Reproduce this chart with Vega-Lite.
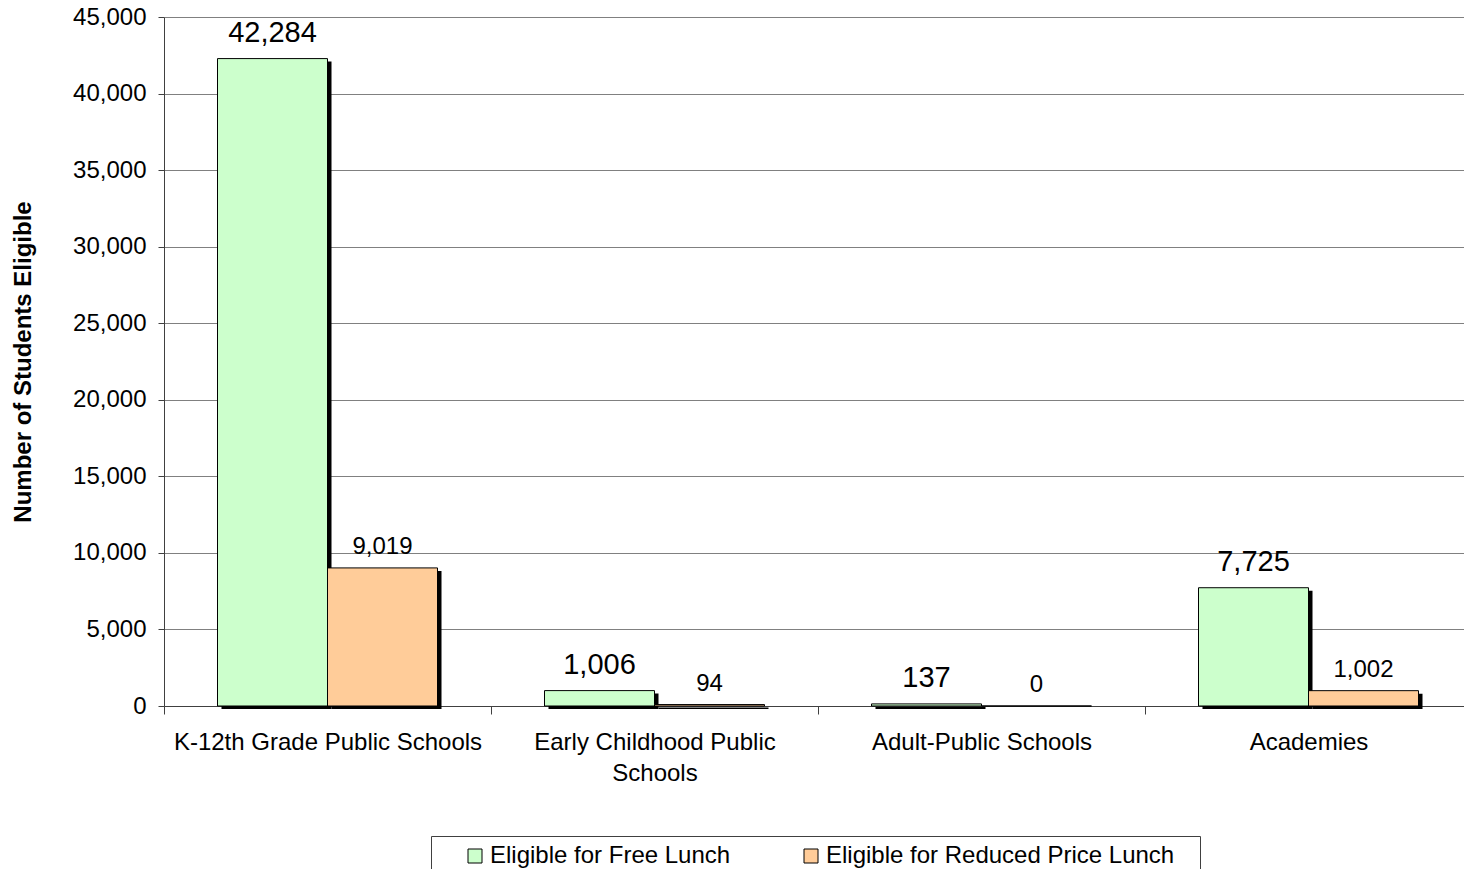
{
  "$schema": "https://vega.github.io/schema/vega-lite/v6.json",
  "autosize": {"type": "none"},
  "width": 1308,
  "height": 689,
  "padding": {"left": 164, "top": 17, "right": 0, "bottom": 163},
  "background": "white",
  "config": {
    "font": "Liberation Sans",
    "view": {"stroke": null},
    "axis": {"labelFont": "Liberation Sans", "titleFont": "Liberation Sans", "labelColor": "black", "titleColor": "black"}
  },
  "data": {
    "values": [
      {"school": "K-12th Grade Public Schools", "series": "Eligible for Free Lunch", "students": 42284},
      {"school": "K-12th Grade Public Schools", "series": "Eligible for Reduced Price Lunch", "students": 9019},
      {"school": "Early Childhood Public Schools", "series": "Eligible for Free Lunch", "students": 1006},
      {"school": "Early Childhood Public Schools", "series": "Eligible for Reduced Price Lunch", "students": 94},
      {"school": "Adult-Public Schools", "series": "Eligible for Free Lunch", "students": 137},
      {"school": "Adult-Public Schools", "series": "Eligible for Reduced Price Lunch", "students": 0},
      {"school": "Academies", "series": "Eligible for Free Lunch", "students": 7725},
      {"school": "Academies", "series": "Eligible for Reduced Price Lunch", "students": 1002}
    ]
  },
  "encoding": {
    "x": {
      "field": "school", "type": "nominal", "sort": null,
      "scale": {"paddingInner": 0, "paddingOuter": 0},
      "axis": {
        "title": null, "labelAngle": 0, "labelFontSize": 24, "labelLineHeight": 31,
        "tickBand": "extent", "tickSize": 8, "tickColor": "#404040", "domainColor": "#404040",
        "labelPadding": 16, "labelLimit": 400,
        "labelExpr": "datum.label == 'Early Childhood Public Schools' ? ['Early Childhood Public', 'Schools'] : datum.label"
      }
    },
    "y": {
      "field": "students", "type": "quantitative",
      "scale": {"domain": [0, 45000], "nice": false},
      "axis": {
        "title": "Number of Students Eligible", "titleFontSize": 24, "titleFontWeight": "bold", "titlePadding": 37,
        "values": [0, 5000, 10000, 15000, 20000, 25000, 30000, 35000, 40000, 45000],
        "format": ",d", "labelFontSize": 24, "labelPadding": 12, "tickSize": 6,
        "tickColor": "#404040", "domainColor": "#404040",
        "grid": true, "gridColor": "#808080", "gridWidth": 1
      }
    }
  },
  "resolve": {"scale": {"xOffset": "independent"}},
  "layer": [
    {
      "mark": {"type": "bar", "fill": "black", "yOffset": 3},
      "encoding": {
        "xOffset": {
          "field": "series", "type": "nominal",
          "scale": {"domain": ["Eligible for Free Lunch", "Eligible for Reduced Price Lunch"], "range": [57.5, 277.5], "paddingInner": 0, "paddingOuter": 0}
        }
      }
    },
    {
      "mark": {"type": "bar", "stroke": "black", "strokeWidth": 1},
      "encoding": {
        "xOffset": {
          "field": "series", "type": "nominal",
          "scale": {"domain": ["Eligible for Free Lunch", "Eligible for Reduced Price Lunch"], "range": [53.5, 273.5], "paddingInner": 0, "paddingOuter": 0}
        },
        "color": {
          "field": "series", "type": "nominal",
          "scale": {"domain": ["Eligible for Free Lunch", "Eligible for Reduced Price Lunch"], "range": ["#CCFFCC", "#FFCC99"]},
          "legend": {
            "title": " ", "titleOrient": "right", "titlePadding": 18, "titleFontSize": 24,
            "orient": "none", "direction": "horizontal",
            "legendX": 267, "legendY": 819,
            "labelFontSize": 24, "labelFont": "Liberation Sans", "labelColor": "black",
            "symbolType": "square", "symbolSize": 196, "symbolStrokeColor": "black", "symbolStrokeWidth": 1,
            "symbolOpacity": 1, "columnPadding": 44, "labelOffset": 3, "labelLimit": 500,
            "strokeColor": "#404040", "padding": 8, "symbolOffset": 24
          }
        }
      }
    },
    {
      "transform": [{"filter": "datum.series == 'Eligible for Free Lunch'"}],
      "mark": {"type": "text", "fontSize": 29, "baseline": "alphabetic", "dy": -17, "color": "black"},
      "encoding": {
        "xOffset": {
          "field": "series", "type": "nominal",
          "scale": {"domain": ["Eligible for Free Lunch", "Eligible for Reduced Price Lunch"], "range": [108.5, 218.5], "padding": 0}
        },
        "text": {"field": "students", "type": "quantitative", "format": ",d"}
      }
    },
    {
      "transform": [{"filter": "datum.series == 'Eligible for Reduced Price Lunch'"}],
      "mark": {"type": "text", "fontSize": 24, "baseline": "alphabetic", "dy": -14, "color": "black"},
      "encoding": {
        "xOffset": {
          "field": "series", "type": "nominal",
          "scale": {"domain": ["Eligible for Free Lunch", "Eligible for Reduced Price Lunch"], "range": [108.5, 218.5], "padding": 0}
        },
        "text": {"field": "students", "type": "quantitative", "format": ",d"}
      }
    }
  ]
}
